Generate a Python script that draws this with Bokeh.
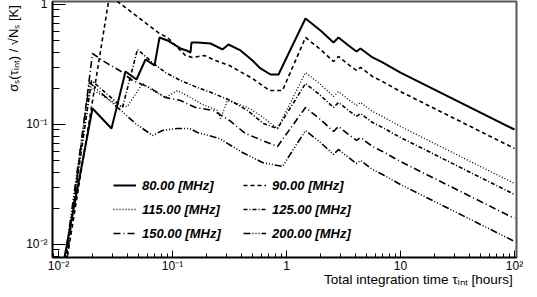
import math
from bokeh.plotting import figure
from bokeh.models import (FixedTicker, Legend, LegendItem, Range1d, Title,
                          CustomJSTickFormatter)
from bokeh.embed import file_html
from bokeh.resources import INLINE

# ---------------- data ----------------
time_80 = [0.01107, 0.01987, 0.02917, 0.03872, 0.04830, 0.05796, 0.06955, 0.07692, 0.09040,
           0.1175, 0.1327, 0.1439, 0.1468, 0.1656, 0.2155, 0.2745, 0.3097, 0.3948, 0.5031,
           0.5914, 0.7244, 0.8509, 1.084, 1.468, 1.987, 2.583, 2.858, 3.499, 4.111, 4.458,
           5.680, 6.953, 10.0, 100.0]
sig_80 = [0.00708, 0.1359, 0.0926, 0.2764, 0.237, 0.348, 0.310, 0.531, 0.501,
          0.430, 0.414, 0.398, 0.482, 0.482, 0.473, 0.422, 0.464, 0.414, 0.341,
          0.293, 0.261, 0.261, 0.422, 0.764, 0.607, 0.482, 0.531, 0.455, 0.406, 0.430,
          0.362, 0.329, 0.271, 0.0908]

time_90 = [0.01175, 0.0280, 0.07692, 0.0904, 0.1300, 0.1497, 0.1908, 0.2384, 0.3160, 0.5031,
           0.7098, 0.9224, 1.468, 1.987, 2.583, 2.858, 3.499, 4.111, 4.458, 5.680, 6.953,
           10.0, 100.0]
sig_90 = [0.00708, 1.189, 0.573, 0.531, 0.376, 0.362, 0.376, 0.341, 0.310, 0.2416,
          0.1920, 0.1920, 0.531, 0.422, 0.335, 0.369, 0.316, 0.282, 0.299, 0.251, 0.228,
          0.188, 0.0631]

time_115 = [0.01129, 0.01909, 0.03498, 0.04029, 0.05453, 0.06680, 0.08686, 0.1106, 0.1439,
            0.1761, 0.2482, 0.2636, 0.3036, 0.4548, 0.5914, 0.8337, 1.468, 1.987, 2.583,
            2.858, 3.499, 4.111, 4.458, 5.680, 6.953, 10.0, 100.0]
sig_115 = [0.00708, 0.1995, 0.1413, 0.1413, 0.2196, 0.1920, 0.1679, 0.1920, 0.1679,
           0.1496, 0.1308, 0.1122, 0.1585, 0.1386, 0.1189, 0.0926, 0.271, 0.2154, 0.171,
           0.188, 0.1616, 0.144, 0.1526, 0.1283, 0.1166, 0.0962, 0.0322]

time_125 = [0.01151, 0.01947, 0.03641, 0.04928, 0.06816, 0.08686, 0.1175, 0.1656, 0.2290,
            0.3224, 0.4548, 0.6281, 0.8337, 1.468, 1.987, 2.583, 2.858, 3.499, 4.111,
            4.458, 5.680, 6.953, 10.0, 100.0]
sig_125 = [0.00708, 0.2326, 0.1386, 0.422, 0.3224, 0.271, 0.2326, 0.2034, 0.1813,
           0.1585, 0.1308, 0.1019, 0.0926, 0.2196, 0.1744, 0.1386, 0.1526, 0.1308, 0.1166,
           0.1235, 0.1039, 0.0944, 0.0779, 0.0261]

time_150 = [0.01175, 0.01987, 0.02584, 0.03428, 0.04457, 0.06285, 0.08686, 0.1175, 0.1591,
            0.2290, 0.3160, 0.4366, 0.6155, 0.8337, 1.468, 1.987, 2.583, 2.858, 3.499,
            4.111, 4.458, 5.680, 6.953, 10.0, 100.0]
sig_150 = [0.00708, 0.3905, 0.329, 0.282, 0.2326, 0.2034, 0.1679, 0.1585, 0.1386,
           0.1308, 0.1080, 0.0841, 0.0736, 0.0656, 0.1386, 0.110, 0.0874, 0.0962, 0.0825,
           0.0736, 0.0779, 0.0656, 0.0596, 0.0491, 0.0165]

time_200 = [0.01129, 0.01871, 0.04733, 0.06680, 0.08171, 0.1106, 0.1410, 0.1656, 0.2584,
            0.4111, 0.6155, 0.9224, 1.468, 1.987, 2.583, 2.858, 3.499, 4.111, 4.458,
            5.680, 6.953, 10.0, 100.0]
sig_200 = [0.00708, 0.2239, 0.1019, 0.0810, 0.0891, 0.0926, 0.0926, 0.0858, 0.0764,
           0.0584, 0.0482, 0.0447, 0.0891, 0.0708, 0.0562, 0.0619, 0.0531, 0.0473, 0.0501,
           0.0422, 0.0383, 0.0316, 0.0106]

labels = ["80.00 [MHz]", "90.00 [MHz]", "115.00 [MHz]",
          "125.00 [MHz]", "150.00 [MHz]", "200.00 [MHz]"]
x_major = [0.01, 0.1, 1, 10, 100]
y_major = [0.01, 0.1, 1]
x_title = "Total integration time \u03c4\u1d62\u2099\u209c  [hours]"
y_title = "\u03c3\u209b(\u03c4\u1d62\u2099\u209c) / \u221aN\u209b  [K]"

# ---------------- figure ----------------
FONT = "Liberation Sans"
p = figure(width=537, height=297, x_axis_type="log", y_axis_type="log",
           x_range=Range1d(0.00886, 104.1), y_range=Range1d(0.00779, 1.059),
           output_backend="svg", toolbar_location=None,
           min_border_left=60, min_border_right=13, min_border_top=9,
           min_border_bottom=32)
p.styles = {"margin-left": "-8px", "margin-top": "-8px"}
p.background_fill_color = "white"
p.border_fill_color = "white"
p.xgrid.visible = False
p.ygrid.visible = False
p.outline_line_color = "#555555"
p.outline_line_width = 2

fmt = CustomJSTickFormatter(code="""
const m = {"-2": "10\u207b\u00b2", "-1": "10\u207b\u00b9", "0": "1", "1": "10", "2": "10\u00b2"};
const e = Math.round(Math.log10(tick));
const s = m[String(e)];
return s === undefined ? "" : s;
""")

x_minor = [k * 10.0 ** e for e in range(-3, 2) for k in range(2, 10)]
y_minor = [k * 10.0 ** e for e in range(-3, 0) for k in range(2, 10)]

xa = p.xaxis[0]
xa.ticker = FixedTicker(ticks=x_major, minor_ticks=x_minor)
xa.formatter = fmt
xa.major_tick_in = 7
xa.major_tick_out = 0
xa.minor_tick_in = 4
xa.minor_tick_out = 0
xa.axis_line_width = 1.5
xa.major_label_standoff = 1
xa.major_label_text_font = FONT
xa.major_label_text_font_size = "12px"
xa.major_label_text_color = "black"

ya = p.yaxis[0]
ya.ticker = FixedTicker(ticks=y_major, minor_ticks=y_minor)
ya.formatter = fmt
ya.major_tick_in = 13
ya.major_tick_out = 0
ya.minor_tick_in = 7
ya.minor_tick_out = 0
ya.axis_line_width = 1.5
ya.major_label_standoff = 5
ya.major_label_text_font = FONT
ya.major_label_text_font_size = "12px"
ya.major_label_text_color = "black"

p.add_layout(Title(text=x_title, align="right", vertical_align="middle", standoff=-10,
                   text_font=FONT, text_font_size="13.5px", text_font_style="normal",
                   text_color="black"), "below")
p.add_layout(Title(text=y_title, align="right", standoff=6,
                   text_font=FONT, text_font_size="13px", text_font_style="normal",
                   text_color="black"), "left")

styles = [
    (time_80, sig_80, "solid", 2.0),
    (time_90, sig_90, "4 3", 1.6),
    (time_115, sig_115, "1 2", 1.3),
    (time_125, sig_125, "4 2 1 2", 1.6),
    (time_150, sig_150, "7 3 1 3", 1.6),
    (time_200, sig_200, "7 2 1 2 1 2 1 2", 1.6),
]
rends = []
for xs, ys, dash, w in styles:
    r = p.line(xs, ys, line_color="black", line_width=w, line_dash=dash)
    rends.append(r)


def make_legend(idx, loc):
    leg = Legend(items=[LegendItem(label=labels[i], renderers=[rends[i]]) for i in idx],
                 location=loc, orientation="vertical", padding=0, margin=0, spacing=4,
                 glyph_width=23, glyph_height=20, label_height=20, label_standoff=6,
                 label_text_font=FONT, label_text_font_size="13px",
                 label_text_font_style="bold italic", label_text_color="black",
                 border_line_color=None, background_fill_alpha=0)
    p.add_layout(leg)


make_legend([0, 2, 4], (61, 14))
make_legend([1, 3, 5], (191, 14))

open("out.html", "w").write(file_html(p, INLINE))
